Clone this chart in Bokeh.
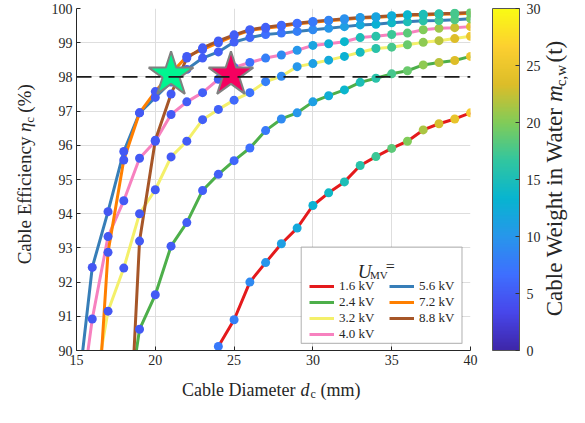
import numpy as np
from bokeh.plotting import figure
from bokeh.layouts import row, column
from bokeh.models import (ColumnDataSource, LinearColorMapper, ColorBar, FixedTicker,
                          Span, Label, Legend, LegendItem, BoxAnnotation, Range1d)
from bokeh.embed import file_html
from bokeh.resources import INLINE

# ---------------- data ----------------
voltages = ["1.6 kV", "2.4 kV", "3.2 kV", "4.0 kV", "5.6 kV", "7.2 kV", "8.8 kV"]
line_colors = ["#E41A1C", "#4DAF4A", "#F4F06A", "#F781BF", "#377EB8", "#FF7F00", "#A65628"]

d_16 = list(range(24, 41))
eta_16 = [90.12, 90.90, 92.00, 92.57, 93.12, 93.58, 94.24, 94.61, 94.93, 95.41, 95.67,
          95.91, 96.12, 96.45, 96.63, 96.77, 96.95]
w_16 = [7.5, 8, 9, 10, 11, 12, 13, 14, 15, 16, 17, 18.5, 20, 21.5, 23, 24.5, 26]

d_24 = list(range(18, 41))
eta_24 = [87.5, 90.62, 91.63, 93.05, 93.74, 94.68, 95.15, 95.55, 95.92, 96.43, 96.77, 96.95,
          97.27, 97.45, 97.62, 97.84, 97.96, 98.09, 98.18, 98.35, 98.42, 98.48, 98.60]
w_24 = [4.8, 4.9, 5.0, 5.1, 5.2, 5.3, 5.5, 6.0, 6.7, 7.5, 9, 10, 11, 12.5, 13.5, 15, 16,
        17.5, 19, 20.5, 22, 23.5, 25]

d_32 = list(range(16, 41))
eta_32 = [88.5, 91.15, 92.41, 94.0, 94.7, 95.66, 96.12, 96.75, 97.05, 97.32, 97.54, 97.86,
          98.02, 98.3, 98.39, 98.49, 98.6, 98.72, 98.83, 98.87, 98.94, 99.01, 99.06, 99.12, 99.19]
w_32 = [4.8, 4.8, 4.9, 4.9, 5.0, 5.0, 5.1, 5.3, 5.6, 6.2, 7, 8, 9, 10, 11, 12, 13, 14.5, 16,
        17.5, 19, 20.5, 22, 23.5, 25]

d_40 = list(range(15, 41))
eta_40 = [87.5, 90.92, 93.33, 94.38, 95.62, 96.12, 96.9, 97.27, 97.54, 97.93, 98.28, 98.42,
          98.55, 98.64, 98.78, 98.92, 98.97, 99.03, 99.15, 99.19, 99.24, 99.28, 99.38, 99.42,
          99.44, 99.47]
w_40 = [4.8, 4.8, 4.8, 4.9, 4.9, 5.0, 5.0, 5.1, 5.3, 5.6, 6.2, 7, 8, 9, 10, 11.5, 12.5, 13.5,
        15, 16, 17, 18.5, 20, 21, 22.5, 24]

d_56 = list(range(15, 41))
eta_56 = [88.4, 92.43, 94.06, 95.82, 96.95, 97.4, 97.85, 98.22, 98.55, 98.73, 99.02, 99.15,
          99.24, 99.28, 99.33, 99.38, 99.42, 99.47, 99.52, 99.54, 99.58, 99.61, 99.64, 99.65,
          99.67, 99.7]
w_56 = [4.8, 4.8, 4.8, 4.9, 4.9, 5.0, 5.0, 5.1, 5.2, 5.3, 5.5, 5.9, 6.6, 7.2, 8, 9, 10, 11,
        12, 13, 14, 15, 16, 17, 18, 19.5]

d_72 = list(range(16, 41))
eta_72 = [85.7, 92.87, 95.57, 96.95, 97.57, 98.1, 98.6, 98.8, 99.0, 99.2, 99.36, 99.42,
          99.48, 99.55, 99.6, 99.64, 99.68, 99.72, 99.74, 99.77, 99.8, 99.81, 99.83, 99.84, 99.86]
w_72 = [4.8, 4.8, 4.9, 4.9, 5.0, 5.0, 5.1, 5.1, 5.2, 5.3, 5.4, 5.6, 6.0, 6.6, 7.5, 8.5,
        9.5, 10.5, 11.5, 12.5, 13.5, 15, 16, 17.5, 19]

d_88 = list(range(18, 41))
eta_88 = [84.0, 93.2, 96.15, 97.5, 98.55, 98.85, 99.05, 99.23, 99.38, 99.45, 99.51, 99.57,
          99.62, 99.66, 99.7, 99.74, 99.76, 99.79, 99.82, 99.83, 99.85, 99.86, 99.88]
w_88 = [4.8, 4.9, 4.9, 5.0, 5.0, 5.1, 5.1, 5.2, 5.3, 5.4, 6.0, 6.6, 7.5, 8.5, 9.5, 10.5,
        11.5, 12.5, 13.5, 15, 16, 17.5, 19]

star_d = [21.0, 24.8]
star_eta = [98.06, 98.06]
star_colors = ["#00F590", "#F5005F"]

threshold = 98.0
x_ticks = [15, 20, 25, 30, 35, 40]
y_ticks = [90, 91, 92, 93, 94, 95, 96, 97, 98, 99, 100]
cbar_ticks = [0, 5, 10, 15, 20, 25, 30]

series_d = [d_16, d_24, d_32, d_40, d_56, d_72, d_88]
series_eta = [eta_16, eta_24, eta_32, eta_40, eta_56, eta_72, eta_88]
series_w = [w_16, w_24, w_32, w_40, w_56, w_72, w_88]

# parula-like colormap
parula_anchor = np.array([
    [0.2422, 0.1504, 0.6603], [0.2803, 0.2782, 0.9221], [0.2440, 0.4358, 0.9988],
    [0.1540, 0.5902, 0.9218], [0.0297, 0.7082, 0.8163], [0.1938, 0.7758, 0.6251],
    [0.5044, 0.7993, 0.3480], [0.8634, 0.7406, 0.1596], [0.9892, 0.8136, 0.1885],
    [0.9769, 0.9839, 0.0805]])
ta = np.linspace(0, 1, len(parula_anchor))
tt = np.linspace(0, 1, 256)
rgb = np.stack([np.interp(tt, ta, parula_anchor[:, k]) for k in range(3)], axis=1)
palette = ["#%02x%02x%02x" % tuple(int(round(c * 255)) for c in r) for r in rgb]
mapper = LinearColorMapper(palette=palette, low=0, high=30)

SERIF = "Liberation Serif"
TXT = "#262626"

# ---------------- main figure ----------------
FH = 342
p = figure(frame_width=394, frame_height=FH, x_range=(15, 40), y_range=(90, 100),
           min_border_left=31, min_border_right=71, min_border_top=8, min_border_bottom=24,
           toolbar_location=None, output_backend="svg")
p.outline_line_color = None
p.background_fill_color = "white"

for ax in (p.xaxis[0], p.yaxis[0]):
    ax.axis_line_color = TXT
    ax.major_tick_line_color = TXT
    ax.major_tick_in = 4
    ax.major_tick_out = 0
    ax.minor_tick_line_color = None
    ax.major_label_text_font = SERIF
    ax.major_label_text_font_size = "14px"
    ax.major_label_text_color = TXT
p.xaxis.ticker = FixedTicker(ticks=x_ticks)
p.yaxis.ticker = FixedTicker(ticks=y_ticks)
p.xaxis.major_label_standoff = 4
p.yaxis.major_label_standoff = 4
p.xgrid.ticker = FixedTicker(ticks=x_ticks)
p.ygrid.ticker = FixedTicker(ticks=y_ticks)
p.grid.grid_line_color = "#dedede"
p.grid.grid_line_width = 1

p.add_layout(Span(location=threshold, dimension="width", line_color="#1a1a1a",
                  line_width=1.6, line_dash="15 8"))

line_renderers = []
for dd, ee, col in zip(series_d, series_eta, line_colors):
    r = p.line(dd, ee, line_color=col, line_width=3)
    line_renderers.append(r)
for dd, ee, ww in zip(series_d, series_eta, series_w):
    src = ColumnDataSource(dict(d=dd, eta=ee, w=ww))
    p.scatter("d", "eta", source=src, size=9, line_color=None,
              fill_color={"field": "w", "transform": mapper})

p.scatter(star_d, star_eta, marker="star", size=47, fill_color=star_colors,
          line_color="#808080", line_width=2)

# legend box + legend
p.add_layout(BoxAnnotation(left=29.26, right=39.46, top=93.02, bottom=90.21,
                           fill_color="white", fill_alpha=1.0,
                           line_color=TXT, line_width=1.2))
legend = Legend(items=[LegendItem(label=v, renderers=[r]) for v, r in zip(voltages, line_renderers)],
                location=(233, 8), nrows=4, orientation="vertical",
                glyph_width=25, glyph_height=16, label_height=16, label_width=50,
                label_standoff=5, spacing=0, padding=0, margin=0,
                border_line_color=None, background_fill_alpha=0,
                label_text_font=SERIF, label_text_font_size="13px", label_text_color=TXT)
p.add_layout(legend)


def lab(fig, x, y, text, size, style="normal", angle=0.0, align="left", baseline="alphabetic"):
    fig.add_layout(Label(x=x, y=y, text=text, text_font=SERIF,
                         text_font_size="%dpx" % size, text_font_style=style,
                         text_color=TXT, angle=angle, text_align=align,
                         text_baseline=baseline))


lab(p, 32.84, 92.32, "U", 19, "italic")
lab(p, 33.62, 92.21, "MV", 11)
lab(p, 34.63, 92.45, "=", 16)

# colour bar
cbar = ColorBar(color_mapper=mapper, location=(416, 0), width=27, height=FH,
                padding=0, margin=0, ticker=FixedTicker(ticks=cbar_ticks),
                major_tick_in=4, major_tick_out=0, major_tick_line_color="#333333",
                bar_line_color="#555555", label_standoff=7,
                major_label_text_font=SERIF, major_label_text_font_size="14px",
                major_label_text_color=TXT, background_fill_alpha=0, border_line_color=None)
p.add_layout(cbar)


def strip(w, h):
    f = figure(width=w, height=h, x_range=Range1d(0, w), y_range=Range1d(0, h),
               min_border=0, toolbar_location=None, output_backend="svg",
               x_axis_location=None, y_axis_location=None)
    f.outline_line_color = None
    f.grid.visible = False
    return f


ang = np.pi / 2
H = 8 + FH + 24
# y-axis title strip (rotated, reads bottom to top)
ys = strip(45, H)
lab(ys, 24, H - 140, "Cable Efficiency", 19, angle=ang, align="right", baseline="middle")
lab(ys, 24, H - 135, "η", 19, "italic", angle=ang, baseline="middle")
lab(ys, 29, H - 125, "c", 13, angle=ang, baseline="middle")
lab(ys, 24, H - 114, "(%)", 19, angle=ang, baseline="middle")

# colour-bar title strip
cs = strip(28, H)
lab(cs, 13, H - 108, "Cable Weight in Water", 23, angle=ang, align="right", baseline="middle")
lab(cs, 13, H - 102, "m", 23, "italic", angle=ang, baseline="middle")
lab(cs, 19, H - 85, "c,w", 15, angle=ang, baseline="middle")
lab(cs, 13, H - 59, "(t)", 23, angle=ang, baseline="middle")

# x-axis title strip
XH = 30
xs = strip(569, XH)
A = 300
mid = XH / 2
lab(xs, A - 5, mid, "Cable Diameter", 18, align="right", baseline="middle")
lab(xs, A, mid, "d", 18, "italic", baseline="middle")
lab(xs, A + 10, mid - 4, "c", 12, baseline="middle")
lab(xs, A + 20, mid, "(mm)", 18, baseline="middle")

layout = column(row(ys, p, cs, spacing=0), xs, spacing=0)
open("out.html", "w").write(file_html(layout, INLINE))
